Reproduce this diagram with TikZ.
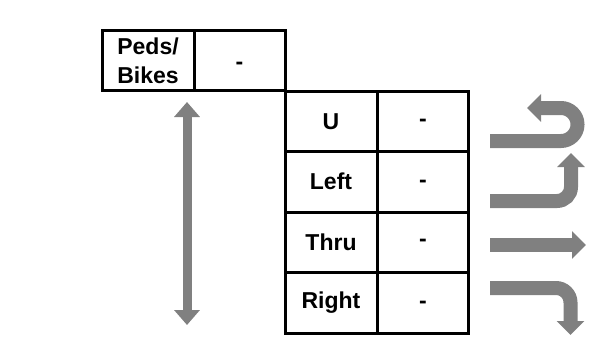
\documentclass[tikz,border=0pt]{standalone}
\usepackage{fontspec}
\setmainfont{Liberation Sans}
\usetikzlibrary{arrows.meta}
\definecolor{arrowgray}{RGB}{128,128,128}
\tikzset{
  cell/.style={draw=black, line width=3pt, inner sep=0pt, minimum height=60.5pt,
    font=\fontsize{23}{29}\selectfont\bfseries, anchor=center},
  labcell/.style={cell, minimum width=92pt, align=center},
  valcell/.style={cell, minimum width=91pt},
  dashtext/.style={anchor=center, inner sep=0pt, font=\fontsize{23}{29}\selectfont\bfseries},
  turn/.style={draw=arrowgray, line width=14pt, -{Triangle[width=27pt,length=14pt]}},
  pedarrow/.style={draw=arrowgray, line width=9pt,
    {Triangle[width=25pt,length=15pt]}-{Triangle[width=25pt,length=15pt]}}
}
\begin{document}
\begin{tikzpicture}[x=1pt,y=-1pt]
\useasboundingbox (0,0) rectangle (599,343);
% Peds/Bikes table
\node[labcell] (peds) at (148,60.5) {Peds/\\Bikes};
\node[valcell] (pedsval) at (239.5,60.5) {};
\node[dashtext] (pedsdash) at (239.5,66) {-};
% Movement table
\node[labcell] (u) at (331,121.25) {U};
\node[valcell] (uval) at (423,121.25) {};
\node[dashtext] (udash) at (423,123) {-};
\node[labcell] (left) at (331,181.75) {Left};
\node[valcell] (leftval) at (423,181.75) {};
\node[dashtext] (leftdash) at (423,183.5) {-};
\node[labcell] (thru) at (331,242.25) {Thru};
\node[valcell] (thruval) at (423,242.25) {};
\node[dashtext] (thrudash) at (423,242.5) {-};
\node[labcell] (right) at (331,302.75) {Right};
\node[valcell] (rightval) at (423,302.75) {};
\node[dashtext] (rightdash) at (423,305) {-};
% Peds double arrow
\coordinate (pa) at (187,102);
\coordinate (pb) at (187,325);
\draw[pedarrow] (pa) -- (pb);
% U-turn
\draw[turn] (490,141) -- (561,141) arc[start angle=-90, end angle=90, radius=16.5pt] -- (527,108);
% Left turn
\draw[turn] (490,201) -- (557,201) arc[start angle=-90, end angle=0, radius=14pt] -- (571,153);
% Thru
\draw[turn] (490,245) -- (586,245);
% Right turn
\draw[turn] (490,288) -- (556,288) arc[start angle=90, end angle=0, radius=14.5pt] -- (570.5,335);
\end{tikzpicture}
\end{document}
